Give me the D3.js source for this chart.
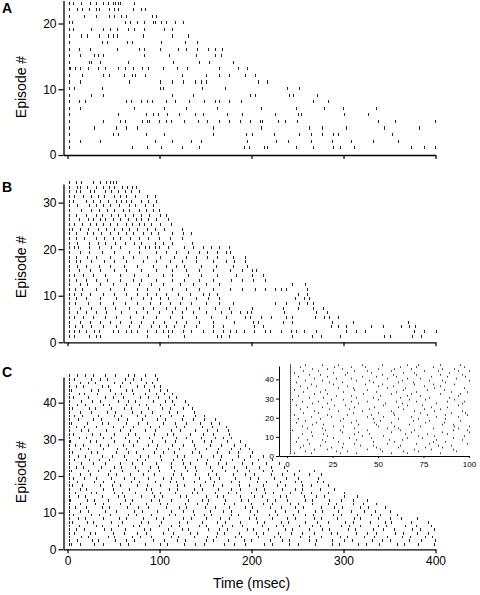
<!DOCTYPE html>
<html><head><meta charset="utf-8">
<script src="https://cdn.jsdelivr.net/npm/d3@7"></script>
<style>
body{margin:0;background:#fff}
svg{display:block}
text{font-family:"Liberation Sans",Arial,Helvetica,sans-serif;fill:#000}
</style>
</head><body>
<svg id="chart" width="480" height="595"></svg>
<script>
// ---------------- data ----------------
const panelLabels = ["A", "B", "C"];
const timeTicks = [0, 100, 200, 300, 400];
const insetTimeTicks = [0, 25, 50, 75, 100];
const yTicksA = [0, 10, 20];
const yTicksB = [0, 10, 20, 30];
const yTicksC = [0, 10, 20, 30, 40];
const stimTime = 1.5;            // stimulus artifact time (ms), present in every episode
const xTitle = "Time (msec)";
const yTitle = "Episode #";

// spike times (ms); row i = episode i+1
const spikesA = [
  [70,86,102,124,143,192,197,214,217,248,267,289,296,311,373,387,399],
  [13,35,95,114,134,145,195,227,240,265,288,308,332,359],
  [49,55,85,105,158,194,200,224,252,265,277,289,294,353],
  [29,53,63,76,158,210,262,277,303,344,382],
  [39,57,62,81,86,89,99,107,113,127,142,152,165,175,187,198,209,211,229,236,249,337,356,399],
  [55,85,93,98,108,121,139,147,173,190,226,251,254,301,327],
  [14,72,105,129,162,210,248,279,299,335],
  [12,19,64,69,80,86,92,107,117,132,148,160,165,175,189,267,283],
  [26,39,114,136,198,204,241,245,271],
  [7,37,100,104,146,171,239,252],
  [14,67,101,114,125,139,145,151,207,217],
  [16,38,45,61,70,73,84,124,151,165,176,193,204],
  [3,8,14,22,33,41,55,62,71,81,87,104,119,130,165,185,195],
  [23,25,35,66,115,143,154,180],
  [13,29,33,39,83,110,140,160,167],
  [12,24,54,78,83,100,120,129,141,153,160,168],
  [37,43,65,70,102,128,141],
  [15,21,34,44,49,54,82,114,131],
  [6,26,39,46,54,66,72,83,105,114],
  [5,62,68,75,83,93,95,102,107,117,125],
  [18,31,45,50,58,64,92,96],
  [10,16,23,31,34,45,51,55,71,80,84],
  [6,15,24,31,38,44,49,52,55,57,72]
];

const spikesB = [
  [7,23,31,35,86,109,127,162,167,176,244,266,276,296,344,351,374,384],
  [7,12,20,29,34,49,55,64,69,75,86,96,104,109,114,125,134,147,158,169,177,183,192,203,215,220,232,243,248,257,270,303,314,323,377,387,400],
  [8,16,26,38,53,67,78,91,99,107,116,127,140,158,169,203,212,286,294,303,330,343,362,371,378],
  [13,24,35,46,57,69,80,93,105,118,129,143,158,181,202,207,234,244,287,310,370],
  [7,17,28,41,53,68,82,96,111,124,140,156,172,193,198,210,221,237,244,269,279,284,294],
  [10,20,31,42,58,74,86,99,114,124,136,151,167,178,187,195,199,235,270,282],
  [13,26,41,52,67,82,93,107,117,129,143,160,176,200,234,251,267,278],
  [8,22,35,49,62,76,90,100,111,122,134,151,165,180,225,238,252,260,267],
  [9,20,35,53,69,82,91,100,109,124,140,153,165,247,257,262],
  [7,15,24,39,51,64,75,86,96,107,120,133,147,154,162,250,260],
  [8,16,31,46,61,75,86,99,114,129,143,158,177,190,204,215,226,232,238,260],
  [13,21,35,49,64,78,91,104,122,136,151,165,244,258],
  [9,20,31,43,57,71,80,96,114,127,143,158,178,190,202,215],
  [7,17,28,41,57,72,87,104,114,131,145,162,183,200,212],
  [12,24,35,50,64,80,96,114,129,143,158,177,190,200,205],
  [10,20,34,46,61,75,93,107,118,127,145,161,180,195],
  [9,13,26,40,51,64,82,96,111,124,140,158,172,181,193],
  [9,21,31,46,60,71,86,100,116,129,140,152,163,180,193],
  [13,23,37,51,67,78,96,107,118,131,143,152,162,172,177],
  [7,11,23,34,47,57,78,84,89,95,99,109,127,136,147,156,165,175],
  [10,23,33,41,52,62,72,80,95,104,114,135],
  [9,18,31,40,49,57,68,78,87,99,111,124],
  [9,21,28,36,46,55,64,71,82,91,98,114,126,134],
  [5,13,22,33,42,51,59,67,76,86,95,105,124],
  [7,16,24,31,38,46,54,64,70,78,83,91,100,112],
  [12,22,28,35,41,49,57,66,74,80,87,96,109],
  [9,20,31,37,47,55,62,71,80,89,100,107],
  [15,26,34,43,51,60,67,78,85,93,99],
  [10,23,31,38,46,56,67,73,84,93],
  [6,20,28,35,44,53,58,63,69,80,87,96],
  [7,17,26,33,40,51,57,64,73,86,95],
  [9,13,24,29,41,47,55,62,69,78],
  [10,14,21,31,38,45,50,59,65,70,74],
  [9,15,28,35,42,46,49,53]
];

const spikesC = [
  [4,13,29,38,57,66,84,101,108,127,139,148,170,181,193,214,222,241,250,269,287,295,316,324,339,358,366,381,398],
  [10,27,33,52,64,72,93,105,119,128,150,158,174,192,199,220,233,241,262,270,288,301,309,331,342,350,371,384,399],
  [15,22,44,51,70,79,91,113,120,137,152,161,182,189,207,224,231,253,262,275,296,304,322,333,347,364,372,389,396],
  [7,24,30,49,61,76,85,104,115,133,141,162,170,186,205,212,229,243,255,268,286,293,314,326,335,356,365,380,392],
  [9,18,40,47,62,83,90,109,124,131,153,165,173,195,202,218,236,244,263,277,284,305,313,332,343,355,374,383,398],
  [12,31,37,55,71,78,99,112,121,143,150,168,179,190,211,227,234,252,266,274,297,306,318,337,346,367,379,395],
  [5,21,28,47,59,80,87,102,121,130,146,163,171,188,206,214,232,240,258,271,283,302,310,329,345,352,373,392],
  [11,19,38,56,63,82,96,104,125,134,150,166,175,197,205,222,239,247,268,276,293,311,318,338,351,363,380],
  [6,25,34,46,66,74,91,110,117,137,148,156,178,185,203,219,228,245,258,267,289,297,315,330,340,358],
  [14,22,41,53,72,81,97,113,126,136,155,169,178,198,206,226,236,251,269,277,294,308,322,334,350],
  [8,20,37,45,65,77,88,107,121,129,149,160,176,193,201,220,232,247,256,275,290,298,318,327,345],
  [13,30,39,57,68,85,100,108,128,141,152,170,181,199,213,222,242,250,266,283,292,310,321,335],
  [3,21,29,44,62,70,91,99,112,131,146,153,171,189,196,217,226,239,258,266,284,297,310,325],
  [11,19,37,55,61,80,94,103,122,129,150,162,169,188,203,211,231,238,257,270,279,300,315],
  [8,25,31,50,59,73,92,100,117,135,141,160,174,183,199,215,223,242,254,265,283,300],
  [14,20,39,49,67,85,91,110,119,138,146,164,178,188,205,214,233,247,255,274,290],
  [5,16,35,48,57,76,86,101,119,127,144,158,168,186,197,213,228,236,255,265,283],
  [10,29,38,51,69,78,95,111,118,137,149,159,178,186,206,216,231,247,254,271,278],
  [6,18,31,47,61,72,87,104,113,126,143,155,165,182,198,207,224,237,251,272],
  [13,24,44,53,68,82,94,115,123,139,153,161,180,193,203,221,233,246,262,275],
  [4,22,33,46,59,77,87,99,116,130,140,157,171,184,197,212,222,239,252,268],
  [9,17,36,50,58,73,90,98,113,128,139,155,168,181,194,208,221,235],
  [15,28,41,57,70,81,96,112,125,133,151,164,172,190,200,216,230],
  [7,23,34,45,64,75,84,102,115,124,141,152,166,179,192,207,222],
  [11,19,37,48,61,79,88,101,119,127,145,158,167,185,198,212],
  [5,26,32,53,66,74,94,104,116,135,143,162,175,185,200],
  [14,22,39,54,63,82,96,109,121,139,150,164,178,188,197],
  [8,17,35,44,60,71,88,97,114,126,138,155,167,181,193],
  [3,24,31,50,67,76,92,106,117,135,148,156,173,188],
  [12,20,38,47,62,78,89,103,118,129,145,160,169,178],
  [6,27,35,51,66,73,94,108,115,133,147,158,176],
  [15,22,42,57,68,84,95,112,122,139,152,163,174],
  [9,18,31,49,60,71,90,99,118,127,146,157,172],
  [4,21,37,44,64,77,86,104,117,129,144,156,165],
  [11,28,36,55,65,81,97,106,124,136,148,160],
  [7,16,33,50,58,75,84,101,113,126,139,148],
  [13,25,43,52,70,80,92,110,119,137],
  [5,23,30,47,61,69,87,103,111,125,135],
  [10,19,38,45,63,78,85,100,116,131],
  [15,27,35,55,66,73,93,106,114,128],
  [6,22,41,49,60,79,88,98,110,118],
  [12,18,32,52,58,71,84,96,105,114],
  [4,25,33,46,64,70,89,101,108],
  [9,17,37,44,57,75,83,94,100],
  [14,22,30,50,59,68,85,92],
  [7,26,35,43,62,71,80,97],
  [10,19,28,41,52,66,72,84,95]
];

// ---------------- drawing ----------------
const svg = d3.select("#chart");
const FONT = "Liberation Sans, Arial, sans-serif";

const panels = [
  {label: panelLabels[0], spikes: spikesA, yTicks: yTicksA, yMax: 23.5, y0: 155, y1: 0.5, off: 0.1, len: 3.2, labelY: 13, titleY: 87, showX: false},
  {label: panelLabels[1], spikes: spikesB, yTicks: yTicksB, yMax: 34, y0: 342.3, y1: 184, off: 0.32, len: 3, labelY: 192, titleY: 267, showX: false},
  {label: panelLabels[2], spikes: spikesC, yTicks: yTicksC, yMax: 47, y0: 549.3, y1: 377, off: 0.35, len: 2.8, labelY: 377, titleY: 472, showX: true}
];

const x = d3.scaleLinear().domain([-4.4, 400]).range([63.5, 435.5]);

panels.forEach(p => {
  const g = svg.append("g");
  const y = d3.scaleLinear().domain([0, p.yMax]).range([p.y0, p.y1]);

  // spikes
  const rows = p.spikes.map((times, i) => ({ep: i + 1, times: [stimTime].concat(times)}));
  const rowG = g.selectAll("g.row").data(rows).join("g").attr("class", "row");
  rowG.selectAll("line").data(r => r.times.map(t => ({t, ep: r.ep}))).join("line")
    .attr("x1", d => Math.round(x(d.t)) + 0.5).attr("x2", d => Math.round(x(d.t)) + 0.5)
    .attr("y1", d => y(d.ep + p.off) - p.len / 2).attr("y2", d => y(d.ep + p.off) + p.len / 2)
    .attr("stroke", "#222").attr("stroke-width", 1).attr("shape-rendering", "crispEdges");

  // x axis
  const xa = g.append("g").attr("transform", `translate(0,${p.y0})`)
    .call(d3.axisBottom(x).tickValues(timeTicks).tickSize(4).tickSizeOuter(0).tickPadding(3)
      .tickFormat(p.showX ? d3.format("d") : () => ""));
  xa.select(".domain").attr("stroke-width", 1.3);
  xa.selectAll(".tick line").attr("stroke-width", 1.2);
  xa.selectAll("text").attr("font-size", 12).attr("font-family", FONT);

  // y axis
  const ya = g.append("g").attr("transform", `translate(${x(-4.4)},0)`)
    .call(d3.axisLeft(y).tickValues(p.yTicks).tickSize(5).tickSizeOuter(0).tickPadding(2).tickFormat(d3.format("d")));
  ya.select(".domain").attr("stroke-width", 1.3);
  ya.selectAll(".tick line").attr("stroke-width", 1.2);
  ya.selectAll("text").attr("font-size", 12).attr("font-family", FONT);

  // labels
  g.append("text").attr("x", 2).attr("y", p.labelY).text(p.label)
    .attr("font-size", 14).attr("font-weight", "bold").attr("font-family", FONT);
  g.append("text").attr("transform", `translate(26,${p.titleY}) rotate(-90)`)
    .attr("text-anchor", "middle").attr("font-size", 14).attr("font-family", FONT).text(yTitle);
});

svg.append("text").attr("x", x(200)).attr("y", 588).attr("text-anchor", "middle")
  .attr("font-size", 14).attr("font-family", FONT).text(xTitle);

// ---------------- inset (first 100 ms of panel C) ----------------
const xi = d3.scaleLinear().domain([-4.4, 100]).range([279, 469]);
const yi = d3.scaleLinear().domain([0, 47]).range([456, 366]);
const ig = svg.append("g");
ig.append("rect").attr("x", 279).attr("y", 362).attr("width", 200).attr("height", 94).attr("fill", "#fff");
const irows = spikesC.map((times, i) => ({ep: i + 1, times: [stimTime].concat(times.filter(t => t <= 100))}));
ig.selectAll("g.irow").data(irows).join("g").selectAll("rect")
  .data(r => r.times.map(t => ({t, ep: r.ep}))).join("rect")
  .attr("x", d => Math.round(xi(d.t))).attr("y", d => yi(d.ep + 0.3) - 1)
  .attr("width", 1).attr("height", 1.6).attr("fill", "#333");
const ixa = ig.append("g").attr("transform", "translate(0,456)")
  .call(d3.axisBottom(xi).tickValues(insetTimeTicks).tickSize(2).tickSizeOuter(0).tickPadding(3).tickFormat(d3.format("d")));
ixa.selectAll("text").attr("font-size", 8).attr("font-family", FONT);
const iya = ig.append("g").attr("transform", "translate(279,0)")
  .call(d3.axisLeft(yi).tickValues(yTicksC).tickSize(3).tickSizeOuter(0).tickPadding(2).tickFormat(d3.format("d")));
iya.selectAll("text").attr("font-size", 8).attr("font-family", FONT);
[ixa, iya].forEach(a => { a.select(".domain").attr("stroke-width", 1); a.selectAll(".tick line").attr("stroke-width", 1); });
</script>
</body></html>
